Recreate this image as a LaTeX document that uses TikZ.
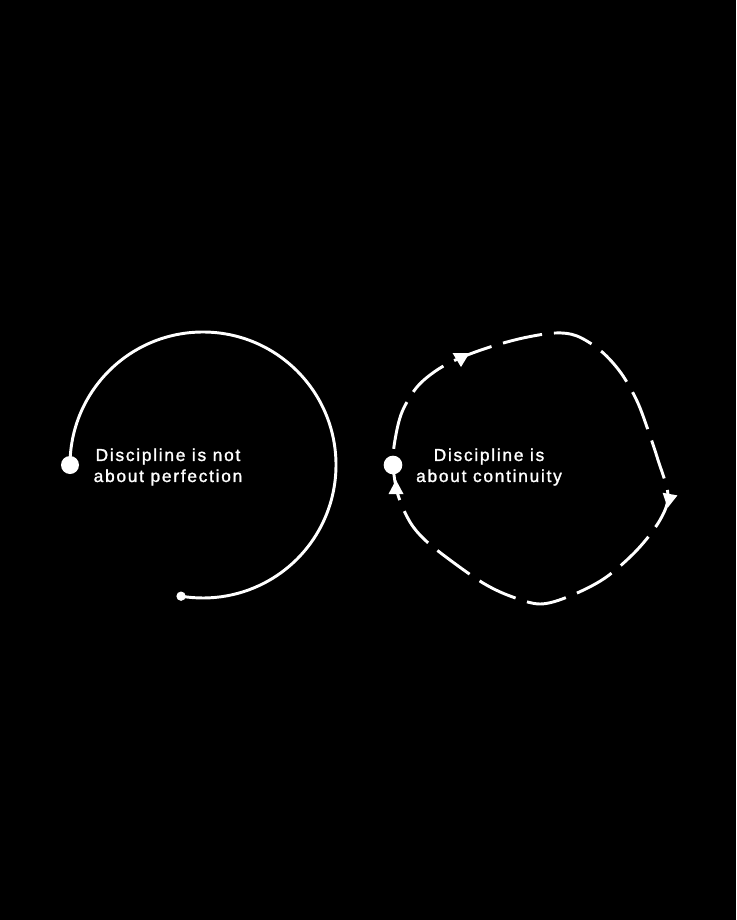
\documentclass[tikz,border=0pt]{standalone}
\usepackage{fontspec}
\setmainfont{Liberation Sans}[LetterSpace=10,FakeBold=1.4]
\usetikzlibrary{arrows.meta}

\tikzset{every picture/.style={line width=0.75pt}}
\tikzset{
  dot/.style={circle,fill=white,inner sep=0pt,minimum size=#1},
  caption/.style={text=white,align=center,inner sep=0.75pt,font=\fontsize{13}{15.75}\selectfont},
  loopline/.style={white,line width=2.2,dash pattern={on 30pt off 9pt}},
  flowtip/.style={fill=white,draw=none}
}

\begin{document}
\begin{tikzpicture}[x=0.75pt,y=0.75pt,yscale=-1,xscale=1]
%Background
\fill[black] (0,0) rectangle (736,920);
\useasboundingbox (0,0) rectangle (736,920);

%Shape: Arc [id:left]
\node (bigdotL) [dot=13.5pt] at (70,465) {};
\draw [white,line width=2.2] (bigdotL.center) arc[start angle=180,end angle=459.5,radius=133] coordinate (arcend);
\node (smalldotL) [dot=7pt] at (arcend) {};

%Shape: Closed loop [id:right]
\draw [loopline] plot[smooth cycle,tension=0.55] coordinates {(393,465) (395,440) (402,412) (417,387) (437,370) (460,358) (490,347) (523,338) (555,333) (577,336) (601,351) (621,373) (637,401) (648,430) (658,460) (668,495) (660,520) (637,550) (605,578) (570,596) (540,604) (510,596) (483,583) (450,560) (425,540) (410,522) (398,495)};
\node (bigdotR) [dot=14pt] at (393,465) {};

%Arrow heads
\fill [flowtip,shift={(461,359)},rotate=0] (-8.5,-6) -- (8.5,-6) -- (0,8) -- cycle;
\fill [flowtip,shift={(669,500)},rotate=10] (-7.5,-6) -- (7.5,-6) -- (0,8) -- cycle;
\fill [flowtip,shift={(396,488)},rotate=180] (-7.5,-6) -- (7.5,-6) -- (0,8) -- cycle;

% Text Node
\node (textL) [caption] at (168,467) {Discipline is not\\about perfection};
% Text Node
\node (textR) [caption] at (489,467) {Discipline is\\about continuity};

\end{tikzpicture}
\end{document}
